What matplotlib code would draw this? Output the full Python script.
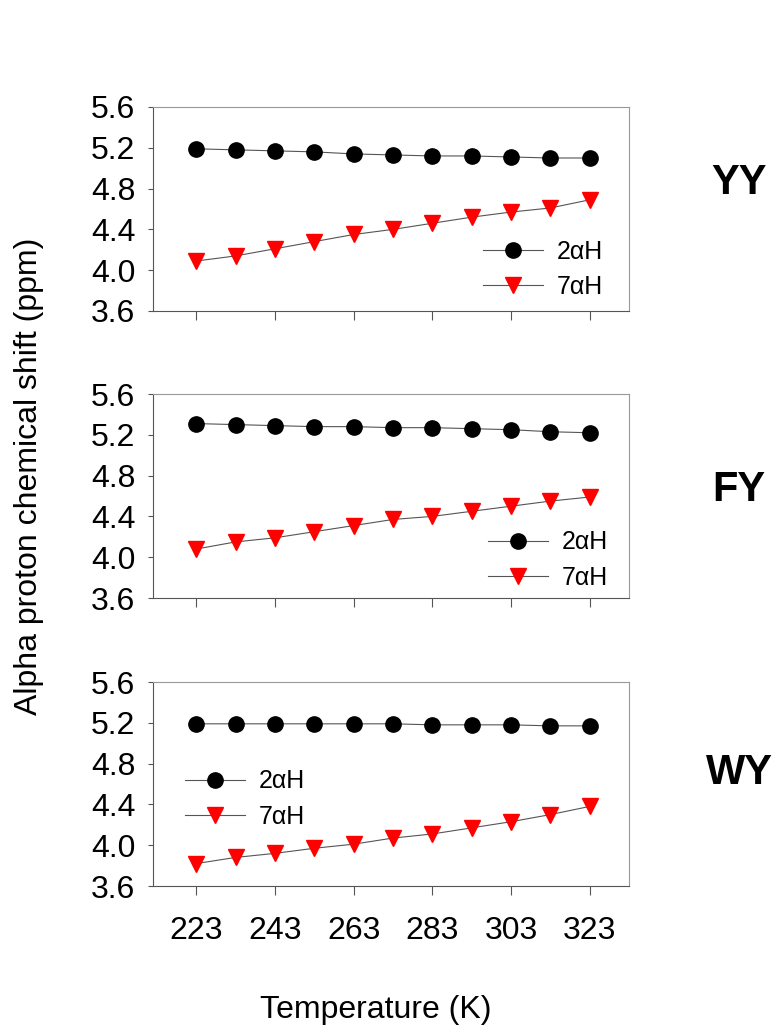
import matplotlib
matplotlib.use('Agg')
import matplotlib.pyplot as plt
import numpy as np

plt.rcParams['font.family'] = ['Liberation Sans', 'DejaVu Sans']

# temperature (K)
temp = [223, 233, 243, 253, 263, 273, 283, 293, 303, 313, 323]

# alpha proton shifts (ppm) for each peptide
yy_2aH = [5.19, 5.18, 5.17, 5.16, 5.14, 5.13, 5.12, 5.12, 5.11, 5.10, 5.10]
yy_7aH = [4.09, 4.14, 4.21, 4.28, 4.35, 4.40, 4.46, 4.52, 4.57, 4.61, 4.69]

fy_2aH = [5.31, 5.30, 5.29, 5.28, 5.28, 5.27, 5.27, 5.26, 5.25, 5.23, 5.22]
fy_7aH = [4.08, 4.15, 4.19, 4.25, 4.31, 4.37, 4.40, 4.45, 4.50, 4.55, 4.59]

wy_2aH = [5.19, 5.19, 5.19, 5.19, 5.19, 5.19, 5.18, 5.18, 5.18, 5.17, 5.17]
wy_7aH = [3.82, 3.88, 3.92, 3.97, 4.01, 4.07, 4.11, 4.17, 4.23, 4.30, 4.38]

names = ['YY', 'FY', 'WY']
series = [(yy_2aH, yy_7aH), (fy_2aH, fy_7aH), (wy_2aH, wy_7aH)]

W, H = 781, 1030
fig = plt.figure(figsize=(W / 100, H / 100), dpi=100)

# panel boxes in pixels: (top, bottom)
boxes = [(107, 311), (394, 598), (682, 886)]
left_px, right_px = 153, 629
leg_pos = [(0.693, 0.203), (0.703, 0.186), (0.067, 0.426)]
name_y = [183, 490, 773]

for i, ((top, bot), (a2, a7)) in enumerate(zip(boxes, series)):
    ax = fig.add_axes([left_px / W, 1 - bot / H, (right_px - left_px) / W, (bot - top) / H])
    ax.plot(temp, a2, color='#555555', lw=0.8, marker='o', ms=11,
            mfc='black', mec='black', label='2\u03b1H')
    ax.plot(temp, a7, color='#555555', lw=0.8, marker='v', ms=11.5,
            mfc='red', mec='red', label='7\u03b1H')
    ax.set_xlim(212, 333)
    ax.set_ylim(3.6, 5.6)
    ax.set_yticks(np.arange(3.6, 5.61, 0.4))
    ax.set_yticklabels(['3.6', '4.0', '4.4', '4.8', '5.2', '5.6'])
    ax.set_xticks([223, 243, 263, 283, 303, 323])
    ax.tick_params(axis='y', direction='out', length=3.6, width=0.8,
                   color='#555555', labelsize=23, pad=9)
    ax.tick_params(axis='x', direction='out', length=6.5, width=0.8,
                   color='#555555', labelsize=23, pad=15)
    if i < 2:
        ax.set_xticklabels([])
    for s in ['left', 'bottom']:
        ax.spines[s].set_color('#555555')
        ax.spines[s].set_linewidth(0.8)
    for s in ['top', 'right']:
        ax.spines[s].set_color('#999999')
        ax.spines[s].set_linewidth(0.8)
    ax.legend(loc='center left', bbox_to_anchor=leg_pos[i], frameon=False,
              fontsize=18, handlelength=2.4, handletextpad=0.55,
              labelspacing=0.45, borderpad=0, borderaxespad=0)
    fig.text(739 / W, 1 - name_y[i] / H, names[i], fontsize=30,
             fontweight='bold', ha='center', va='center')

fig.text(29 / W, 1 - 476 / H, 'Alpha proton chemical shift (ppm)',
         fontsize=23, rotation=90, ha='center', va='center')
fig.text(376 / W, 1 - 1010 / H, 'Temperature (K)', fontsize=23,
         ha='center', va='center')

fig.savefig('out.png', dpi=100, facecolor='white')
